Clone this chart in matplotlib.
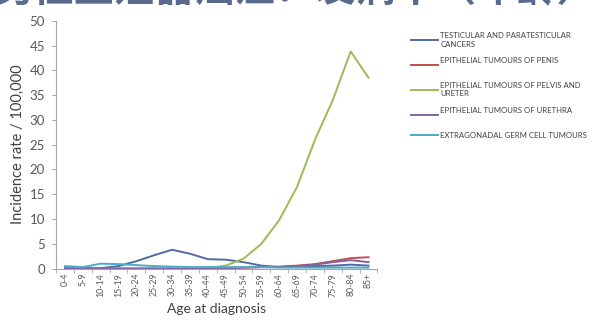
import matplotlib
matplotlib.use('Agg')
import matplotlib.pyplot as plt
import numpy as np

plt.rcParams['font.family'] = ['Lato', 'Noto Sans CJK SC', 'DejaVu Sans']

# data
ages = ['0-4', '5-9', '10-14', '15-19', '20-24', '25-29', '30-34', '35-39', '40-44',
        '45-49', '50-54', '55-59', '60-64', '65-69', '70-74', '75-79', '80-84', '85+']
testicular = [0.3, 0.2, 0.1, 0.5, 1.5, 2.7, 3.8, 3.0, 1.9, 1.8, 1.3, 0.6, 0.3, 0.4, 0.5, 0.6, 0.8, 0.6]
penis = [0, 0, 0, 0, 0, 0, 0, 0, 0.1, 0.1, 0.2, 0.3, 0.4, 0.6, 0.9, 1.5, 2.1, 2.3]
pelvis = [0, 0, 0, 0, 0, 0, 0, 0, 0.1, 0.6, 2.0, 5.0, 9.8, 16.5, 26.0, 34.0, 43.8, 38.5]
urethra = [0, 0, 0, 0, 0, 0, 0, 0, 0, 0.1, 0.2, 0.3, 0.3, 0.5, 0.8, 1.3, 1.7, 1.3]
extragonadal = [0.5, 0.3, 1.0, 0.9, 0.7, 0.5, 0.4, 0.3, 0.3, 0.3, 0.3, 0.3, 0.2, 0.2, 0.2, 0.2, 0.2, 0.2]

labels = ['TESTICULAR AND PARATESTICULAR\nCANCERS', 'EPITHELIAL TUMOURS OF PENIS\n',
          'EPITHELIAL TUMOURS OF PELVIS AND\nURETER', 'EPITHELIAL TUMOURS OF URETHRA\n',
          'EXTRAGONADAL GERM CELL TUMOURS']
colors = ['#4F6BA5', '#C0504D', '#9BBB59', '#8064A2', '#4BACC6']

fig = plt.figure(figsize=(5.92, 3.24), dpi=100)
ax = fig.add_axes([0.0946, 0.171, 0.543, 0.765])

x = np.arange(len(ages))
for series, lab, c in zip([testicular, penis, pelvis, urethra, extragonadal], labels, colors):
    ax.plot(x, series, color=c, linewidth=1.4, label=lab)

ax.set_xlim(-0.5, len(ages) - 0.5)
ax.set_ylim(0, 50)
ax.set_yticks(range(0, 51, 5))
ax.set_xticks(x)
ax.set_xticklabels(ages, rotation=90, fontsize=6.3, color='#595959')
ax.set_xticks(np.arange(-0.5, len(ages), 1), minor=True)
ax.tick_params(axis='x', which='major', length=0, pad=3)
ax.tick_params(axis='x', which='minor', length=3, color='#A6A6A6')
ax.tick_params(axis='y', length=3, color='#A6A6A6', labelsize=9.5, labelcolor='#595959', pad=5)

for s in ['top', 'right']:
    ax.spines[s].set_visible(False)
for s in ['left', 'bottom']:
    ax.spines[s].set_color('#A6A6A6')

ax.set_ylabel('Incidence rate / 100,000', fontsize=10.5, color='#404040', labelpad=3)
ax.set_xlabel('Age at diagnosis', fontsize=10, color='#404040', labelpad=5)

leg = fig.legend(loc='upper left', bbox_to_anchor=(0.695, 0.9), frameon=False,
                 borderpad=0, borderaxespad=0,
                 fontsize=5.6, handlelength=3.4, handletextpad=0.3, labelspacing=1.25)
for t in leg.get_texts():
    t.set_color('#404040')

# title cut off at the top of the slide
fig.text(0.5, 0.998, '男性生殖器癌症：发病率（年龄）', ha='center', va='baseline',
         fontsize=29, fontweight='bold', color='#5A6A8E')

fig.savefig('out.png', dpi=100)
